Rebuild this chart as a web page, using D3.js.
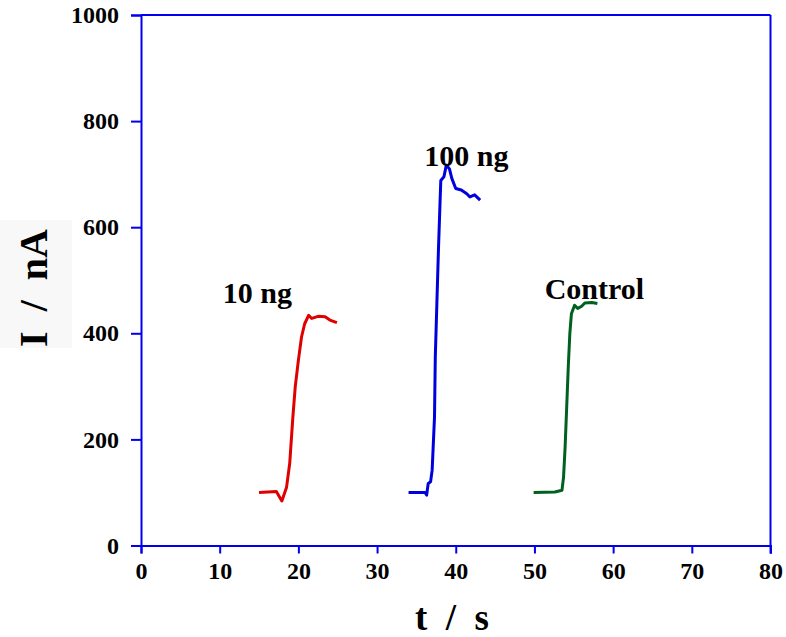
<!DOCTYPE html>
<html>
<head>
<meta charset="utf-8">
<script src="https://cdn.jsdelivr.net/npm/d3@7"></script>
<style>
  body { margin: 0; background: #fff; }
  svg text { font-family: "Liberation Serif", "Times New Roman", serif; font-weight: bold; fill: #000; }
</style>
</head>
<body>
<svg width="786" height="637"></svg>
<script>
// time (s) and current (nA)
var t10 = [15, 17.2, 17.9, 18.5, 18.9, 19.3, 19.6, 20.0, 20.4, 20.8, 21.3, 21.7, 22.5, 23.4, 24.0, 24.9];
var i10 = [100, 102, 84, 110, 155, 242, 299, 349, 393, 418, 434, 428, 432, 431, 425, 420];

var t100 = [34.0, 36.1, 36.3, 36.5, 36.8, 37.0, 37.3, 37.4, 37.6, 37.8, 38.0, 38.1, 38.5, 38.8, 39.2, 39.5, 40.0, 40.7, 41.4, 41.8, 42.4, 43.1];
var i100 = [100, 100, 95, 117, 120, 142, 242, 355, 456, 557, 645, 688, 695, 717, 710, 692, 673, 670, 663, 657, 661, 651];

var tCtrl = [49.9, 52.6, 53.5, 53.7, 53.9, 54.1, 54.3, 54.5, 54.7, 55.1, 55.5, 56.0, 56.4, 57.3, 58.0];
var iCtrl = [100, 101, 104, 129, 186, 261, 337, 400, 437, 453, 447, 451, 457, 458, 456];

var xTicks = [0, 10, 20, 30, 40, 50, 60, 70, 80];
var yTicks = [0, 200, 400, 600, 800, 1000];

var labels = ["10 ng", "100 ng", "Control"];
var labelT = [10.4, 36.0, 51.3];
var labelI = [457, 715, 465];

var colors = ["#e00000", "#0000dd", "#00601e"];

var plotLeft = 141, plotTop = 15, plotRight = 770.5, plotBottom = 545.5;
var axisColor = "#0000ee";

var svg = d3.select("svg");

// faint box behind y title
svg.append("rect").attr("x", 0).attr("y", 220).attr("width", 72).attr("height", 128).attr("fill", "#f8f8f8");

var x = d3.scaleLinear().domain([0, 80]).range([plotLeft, plotRight]);
var y = d3.scaleLinear().domain([0, 1000]).range([plotBottom, plotTop]);

var xAxis = svg.append("g")
    .attr("transform", "translate(0," + plotBottom + ")")
    .call(d3.axisBottom(x).tickValues(xTicks).tickFormat(d3.format("d")).tickSize(8).tickPadding(5));
var yAxis = svg.append("g")
    .attr("transform", "translate(" + plotLeft + ",0)")
    .call(d3.axisLeft(y).tickValues(yTicks).tickFormat(d3.format("d")).tickSize(10).tickPadding(12));

[xAxis, yAxis].forEach(function(g) {
    g.selectAll("path, line").attr("stroke", axisColor).attr("stroke-width", 2);
    g.selectAll("text").style("font-size", "24px").attr("fill", "#000");
});
xAxis.selectAll("text").attr("dy", "0.85em");

// top and right frame
svg.append("line").attr("x1", plotLeft).attr("x2", plotRight).attr("y1", plotTop).attr("y2", plotTop)
    .attr("stroke", axisColor).attr("stroke-width", 2);
svg.append("line").attr("x1", plotRight).attr("x2", plotRight).attr("y1", plotTop).attr("y2", plotBottom + 8)
    .attr("stroke", axisColor).attr("stroke-width", 2);

var line = d3.line()
    .x(function(d) { return x(d[0]); })
    .y(function(d) { return y(d[1]); });

var series = [d3.zip(t10, i10), d3.zip(t100, i100), d3.zip(tCtrl, iCtrl)];

svg.selectAll("path.curve")
    .data(series)
    .join("path")
    .attr("class", "curve")
    .attr("d", line)
    .attr("fill", "none")
    .attr("stroke", function(d, i) { return colors[i]; })
    .attr("stroke-width", 3)
    .attr("stroke-linejoin", "round");

svg.selectAll("text.lab")
    .data(labels)
    .join("text")
    .attr("class", "lab")
    .attr("x", function(d, i) { return x(labelT[i]); })
    .attr("y", function(d, i) { return y(labelI[i]); })
    .style("font-size", "30px")
    .text(function(d) { return d; });

svg.append("text")
    .attr("x", 452)
    .attr("y", 630)
    .attr("text-anchor", "middle")
    .style("font-size", "37px")
    .style("white-space", "pre")
    .text("t  /  s");

svg.append("text")
    .attr("transform", "translate(47,288) rotate(-90)")
    .attr("text-anchor", "middle")
    .style("font-size", "40px")
    .style("white-space", "pre")
    .text("I  /  nA");
</script>
</body>
</html>
